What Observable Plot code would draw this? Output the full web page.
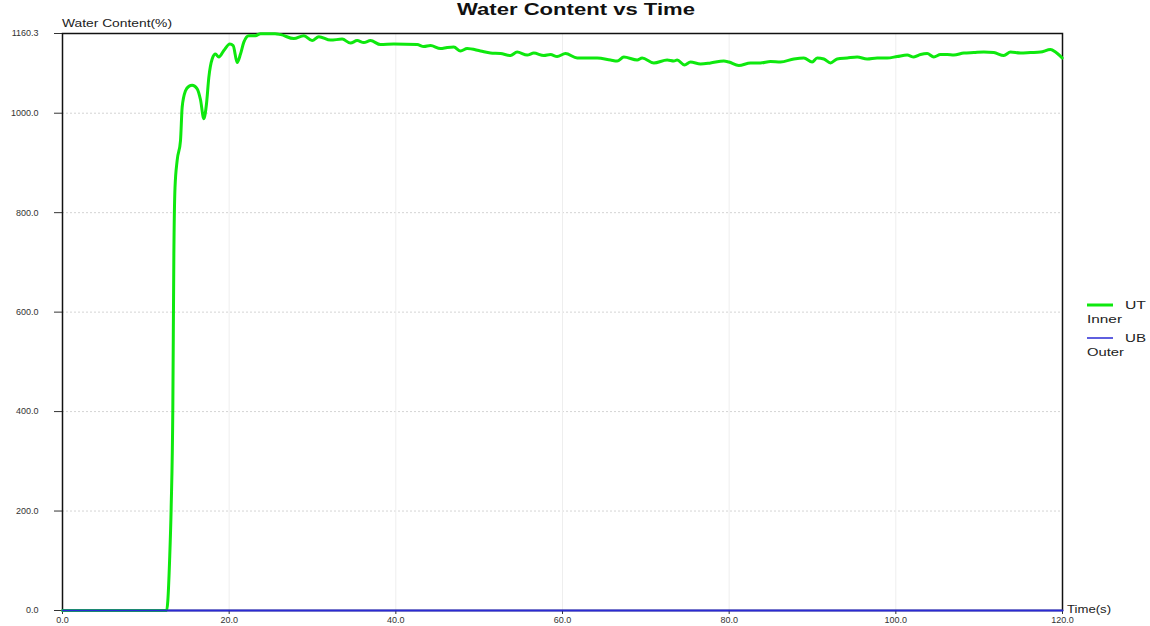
<!DOCTYPE html>
<html>
<head>
<meta charset="utf-8">
<script src="https://cdn.jsdelivr.net/npm/d3@7"></script>
<script src="https://cdn.jsdelivr.net/npm/@observablehq/plot@0.6"></script>
<style>
  html, body { margin: 0; padding: 0; background: #fff; }
  #chart { position: relative; width: 1150px; height: 626px; }
  svg { font-family: "Liberation Sans", Arial, sans-serif; }
</style>
</head>
<body>
<div id="chart"></div>
<script>
// ---- data ----
const utTime = [0, 12.5, 12.64, 12.85, 13.04, 13.24, 13.36, 13.5, 13.76, 14.16,
  14.36, 14.76, 15.16, 15.56, 16.16, 16.56, 16.96, 17.28, 17.56, 17.96,
  18.36, 18.76, 19.36, 20.08, 20.48, 20.96, 21.36, 21.76, 22.36, 23.16,
  23.76, 24.6, 25.5, 26.2, 27.76, 28.96, 29.96, 30.76, 32.16, 33.56,
  34.56, 35.36, 36.16, 36.96, 38.16, 39.76, 42.56, 43.36, 44.16, 45.36,
  46.16, 46.96, 47.76, 48.56, 50.16, 51.36, 52.56, 53.76, 54.56, 55.76,
  56.56, 57.76, 58.56, 59.36, 60.36, 61.76, 64.16, 65.76, 66.56, 67.36,
  68.96, 69.56, 70.96, 72.56, 73.36, 73.76, 74.64, 75.36, 76.56, 77.76,
  79.36, 79.96, 81.16, 82.56, 83.76, 84.96, 86.16, 87.76, 88.96, 89.96,
  90.56, 91.36, 92.16, 92.96, 94.16, 95.36, 96.56, 97.76, 98.96, 100.16,
  101.36, 102.16, 102.96, 103.76, 104.56, 105.36, 106.16, 106.96, 108.16, 109.36,
  110.56, 111.76, 112.96, 113.76, 114.96, 116.16, 117.36, 118.56, 119.16, 119.96];
const utValue = [0, 0, 20, 100, 207, 409, 710, 850, 905, 945,
  1012, 1045, 1054, 1056, 1049, 1027, 989, 1019, 1072, 1109,
  1119, 1113, 1126, 1139, 1136, 1102, 1119, 1143, 1156, 1156,
  1160, 1160, 1160, 1158, 1150, 1156, 1146, 1154, 1147, 1149,
  1141, 1146, 1142, 1146, 1138, 1139, 1138, 1134, 1136, 1130,
  1132, 1133, 1125, 1130, 1125, 1121, 1120, 1116, 1123, 1117,
  1121, 1116, 1118, 1114, 1120, 1111, 1111, 1107, 1105, 1113,
  1107, 1111, 1101, 1107, 1105, 1107, 1097, 1103, 1099, 1101,
  1105, 1103, 1096, 1101, 1101, 1104, 1103, 1109, 1111, 1103,
  1111, 1109, 1101, 1109, 1111, 1113, 1109, 1111, 1111, 1114,
  1117, 1113, 1118, 1120, 1113, 1118, 1118, 1117, 1121, 1122,
  1123, 1122, 1116, 1123, 1121, 1122, 1123, 1128, 1123, 1111];
const ubTime = [0, 120];
const ubValue = [0, 0];
const yTicks = [0, 200, 400, 600, 800, 1000, 1160.3];
const xTicks = [0, 20, 40, 60, 80, 100, 120];
const seriesNames = ["UT", "UB"];
const seriesSub = ["Inner", "Outer"];
const seriesColors = ["#0ee80e", "#2a2ad4"];
const titleText = "Water Content vs Time";
const yLabel = "Water Content(%)";
const xLabel = "Time(s)";

const ut = utTime.map((t, i) => ({t, v: utValue[i]}));
const ub = ubTime.map((t, i) => ({t, v: ubValue[i]}));

const plot = Plot.plot({
  width: 1150,
  height: 626,
  marginLeft: 62,
  marginRight: 88,
  marginTop: 33,
  marginBottom: 16,
  style: {fontFamily: "'Liberation Sans', Arial, sans-serif", fontSize: "9px", color: "#333", background: "#fff"},
  x: {domain: [0, 120]},
  y: {domain: [0, 1160.3]},
  marks: [
    Plot.gridY(yTicks.slice(1, -1), {stroke: "#d4d4d4", strokeOpacity: 1, strokeDasharray: "2,2"}),
    Plot.gridX(xTicks.slice(1, -1), {stroke: "#eeeeee", strokeOpacity: 1}),
    Plot.axisY(yTicks, {tickSize: 8, tickPadding: 16, tickFormat: d => d.toFixed(1), label: null, stroke: "#333", fill: "#333"}),
    Plot.axisX(xTicks, {tickSize: 4, tickPadding: 2, tickFormat: d => d.toFixed(1), label: null, stroke: "#333", fill: "#333"}),
    Plot.frame({stroke: "#111", strokeWidth: 1.5}),
    Plot.line(ut, {x: "t", y: "v", stroke: seriesColors[0], strokeWidth: 3, curve: "monotone-x"}),
    Plot.line(ub, {x: "t", y: "v", stroke: seriesColors[1], strokeWidth: 2})
  ]
});

document.getElementById("chart").appendChild(plot);

const svg = d3.select(plot);

function stretchTo(sel, len) {
  sel.attr("textLength", len).attr("lengthAdjust", "spacingAndGlyphs");
}

// Title
const title = svg.append("text")
  .attr("x", 576).attr("y", 15)
  .attr("text-anchor", "middle")
  .attr("font-weight", "bold")
  .attr("font-size", 16.5)
  .attr("fill", "#111")
  .text(titleText);
stretchTo(title, 238);

// Y axis label
const yl = svg.append("text")
  .attr("x", 62).attr("y", 27)
  .attr("text-anchor", "start")
  .attr("font-size", 11)
  .attr("fill", "#222")
  .text(yLabel);
stretchTo(yl, 110);

// X axis label
const xl = svg.append("text")
  .attr("x", 1067).attr("y", 613)
  .attr("text-anchor", "start")
  .attr("font-size", 10.5)
  .attr("fill", "#222")
  .text(xLabel);
stretchTo(xl, 44);

// Legend
const legendY = [305, 338];
const legend = svg.append("g").attr("text-anchor", "start");
seriesNames.forEach((name, i) => {
  const y = legendY[i];
  legend.append("line")
    .attr("x1", 1087).attr("x2", 1113).attr("y1", y).attr("y2", y)
    .attr("stroke", seriesColors[i]).attr("stroke-width", i === 0 ? 3 : 1.5);
  const t1 = legend.append("text")
    .attr("x", 1125).attr("y", y).attr("dy", "0.35em")
    .attr("text-anchor", "start")
    .attr("font-size", 10.5).attr("fill", "#222")
    .text(name);
  stretchTo(t1, 21);
  const t2 = legend.append("text")
    .attr("x", 1087).attr("y", y + 14).attr("dy", "0.35em")
    .attr("text-anchor", "start")
    .attr("font-size", 10.5).attr("fill", "#222")
    .text(seriesSub[i]);
  stretchTo(t2, i === 0 ? 35 : 37);
});
</script>
</body>
</html>
